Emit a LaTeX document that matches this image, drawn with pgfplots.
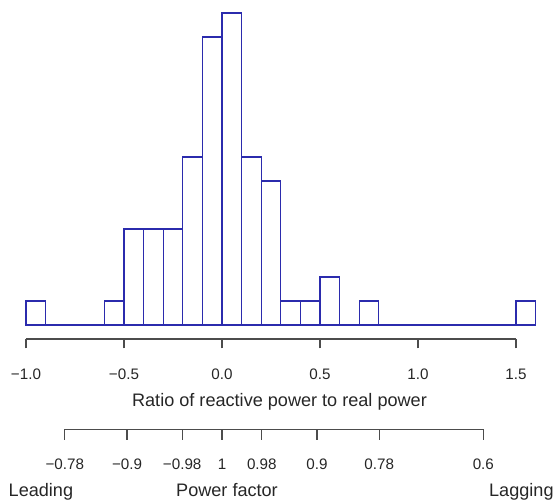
\documentclass[border=0pt]{standalone}
\usepackage{pgfplots}
\pgfplotsset{compat=1.18}
\usepackage{fontspec}
\setmainfont{Liberation Sans}
\definecolor{histblue}{rgb}{0.17,0.17,0.68}
\definecolor{axgray}{gray}{0.3}
\newcommand{\ticksize}{\fontsize{7.6}{9}\selectfont}
\newcommand{\labsize}{\fontsize{9.05}{10.5}\selectfont}

\pgfplotstableread{
x y
-1.0 1
-0.9 0
-0.8 0
-0.7 0
-0.6 1
-0.5 4
-0.4 4
-0.3 4
-0.2 7
-0.1 12
0.0 13
0.1 7
0.2 6
0.3 1
0.4 1
0.5 2
0.6 0
0.7 1
0.8 0
0.9 0
1.0 0
1.1 0
1.2 0
1.3 0
1.4 0
1.5 1
1.6 1
}\histdata

\begin{document}
\begin{tikzpicture}
% histogram
\begin{axis}[
  x=98pt, y=12pt,
  xmin=-1.0, xmax=1.6, ymin=0, ymax=13,
  anchor=origin, at={(0pt,0pt)},
  axis lines=none,
  clip=false,
]
\addplot[ybar interval, draw=histblue, line width=0.6pt, fill=white] table[x=x,y=y] {\histdata};
\end{axis}

% ratio axis
\begin{axis}[
  x=98pt, y=1pt,
  xmin=-1.0, xmax=1.5, ymin=0, ymax=1,
  anchor=south west, at={(-98pt,-7pt)},
  hide y axis,
  axis x line*=bottom,
  x axis line style={-, draw=axgray, line width=0.6pt},
  xtick={-1,-0.5,0,0.5,1,1.5},
  xticklabels={−1.0,−0.5,0.0,0.5,1.0,1.5},
  xtick align=outside,
  major tick length=4.75pt,
  every tick/.append style={draw=axgray, line width=0.6pt},
  xticklabel style={font=\ticksize, anchor=base, yshift=-15.5pt, inner sep=0pt, text=black!85},
]
\addplot[draw=none] coordinates {(-1,0) (1.5,0)};
\end{axis}

% power factor axis
\begin{axis}[
  x=98pt, y=1pt,
  xmin=-0.80228, xmax=1.33333, ymin=0, ymax=1,
  anchor=south west, at={(-78.62pt,-52.25pt)},
  hide y axis,
  axis x line*=bottom,
  x axis line style={-, draw=axgray, line width=0.6pt},
  xtick={-0.80228,-0.48432,-0.20306,0,0.20306,0.48432,0.80228,1.33333},
  xticklabels={−0.78,−0.9,−0.98,1,0.98,0.9,0.78,0.6},
  xtick align=outside,
  major tick length=5.25pt,
  every tick/.append style={draw=axgray, line width=0.6pt},
  xticklabel style={font=\ticksize, anchor=base, yshift=-15pt, inner sep=0pt, text=black!85},
]
\addplot[draw=none] coordinates {(-0.8,0) (1.3,0)};
\end{axis}

\node[font=\labsize, anchor=base, inner sep=0pt, text=black!85] at (28.75pt,-40.85pt) {Ratio of reactive power to real power};
\node[font=\labsize, anchor=base west, inner sep=0pt, text=black!85] at (-106.85pt,-86pt) {Leading};
\node[font=\labsize, anchor=base, inner sep=0pt, text=black!85] at (2.5pt,-86pt) {Power factor};
\node[font=\labsize, anchor=base east, inner sep=0pt, text=black!85] at (166pt,-86pt) {Lagging};

\pgfresetboundingbox
\useasboundingbox (-111pt,-88pt) rectangle (166pt,162.5pt);
\end{tikzpicture}
\end{document}
